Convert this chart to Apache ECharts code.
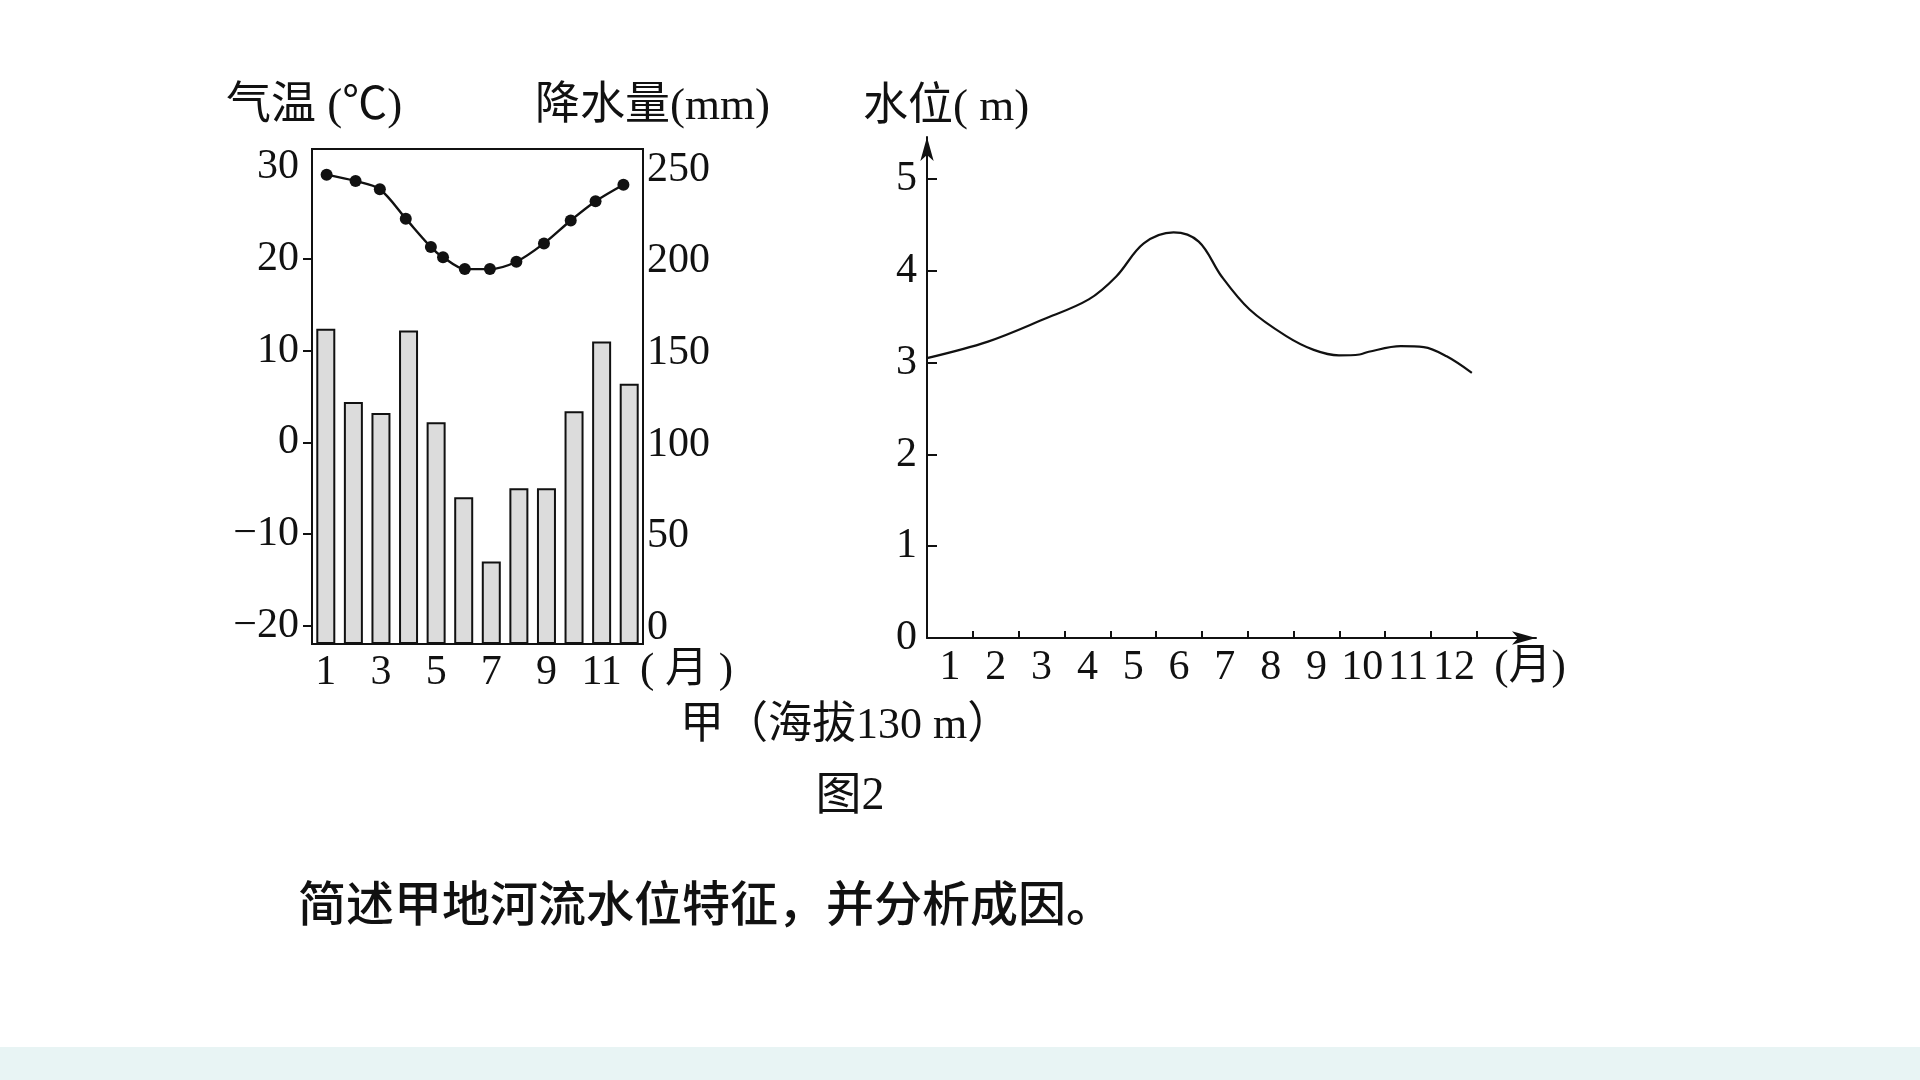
<!DOCTYPE html>
<html>
<head>
<meta charset="utf-8">
<title>图2</title>
<script src="https://cdn.jsdelivr.net/npm/echarts@6/dist/echarts.min.js"></script>
<style>
  html, body { margin: 0; padding: 0; background: #fff; }
  #main { width: 1920px; height: 1080px; }
  #band { position: absolute; left: 0; top: 1047px; width: 1920px; height: 33px; background: #e8f4f4; }
</style>
</head>
<body>
<div id="main"></div>
<div id="band"></div>
<script>
// 月份
const months = ['1', '2', '3', '4', '5', '6', '7', '8', '9', '10', '11', '12'];
// 甲地降水量 (mm)
const precip = [172, 132, 126, 171, 121, 80, 45, 85, 85, 127, 165, 142];
// 甲地气温 (℃)，图上共 13 个点
const tempMonths = [1.03, 2.08, 2.96, 3.9, 4.81, 5.25, 6.04, 6.95, 7.91, 8.91, 9.88, 10.78, 11.79];
const temps = [29.2, 28.5, 27.6, 24.4, 21.3, 20.2, 18.9, 18.9, 19.7, 21.7, 24.2, 26.3, 28.1];
// 河流水位 (m)
const levelMonths = [0, 1.33, 2.53, 3.53, 4.13, 4.73, 5.38, 5.93, 6.43, 7.04, 7.84, 8.44, 8.99, 9.44, 9.64, 10.34, 10.84, 11.34, 11.89];
const levels = [3.05, 3.23, 3.47, 3.69, 3.94, 4.30, 4.42, 4.32, 3.94, 3.58, 3.29, 3.14, 3.08, 3.09, 3.12, 3.18, 3.17, 3.07, 2.89];
// 刻度
const tempTicks = [-20, -10, 0, 10, 20, 30];
const precipTicks = [0, 50, 100, 150, 200, 250];
const levelTicks = [0, 1, 2, 3, 4, 5];

const NUM_FONT = 'Liberation Serif';
const TXT_FONT = "'Liberation Serif', 'Noto Sans CJK SC'";
const INK = '#111';

const chart = echarts.init(document.getElementById('main'));

function txt(text, x, y, size, family, align, weight) {
  return {
    type: 'text',
    x: x,
    y: y,
    style: {
      text: text,
      font: (weight || 'normal') + ' ' + size + 'px ' + family,
      fill: INK,
      textAlign: align || 'left',
      textVerticalAlign: 'middle',
      align: align || 'left',
      verticalAlign: 'middle'
    }
  };
}

chart.setOption({
  animation: false,
  grid: [
    { left: 312, top: 149, width: 331, height: 495, show: true, borderColor: INK, borderWidth: 2 },
    // 右图：坐标轴延长到箭头尖
    { left: 927, top: 137, width: 609, height: 501 }
  ],
  xAxis: [
    {
      type: 'category', gridIndex: 0, data: months, boundaryGap: true,
      axisLine: { show: false }, axisTick: { show: false },
      axisLabel: { interval: 1, margin: 8, fontFamily: NUM_FONT, fontSize: 42, color: INK }
    },
    { type: 'value', gridIndex: 0, min: 0.5, max: 12.5, show: false },
    {
      type: 'value', gridIndex: 1, min: 0, max: 13.29,
      splitLine: { show: false },
      axisLine: { show: true, lineStyle: { color: INK, width: 2 }, symbol: ['none', 'arrow'], symbolSize: [10, 24] },
      axisTick: { show: true, inside: true, length: 7, lineStyle: { color: INK, width: 2 }, customValues: months.map((m, i) => i + 1) },
      axisLabel: {
        margin: 9, fontFamily: NUM_FONT, fontSize: 42, color: INK,
        customValues: months.map((m, i) => i + 0.5),
        formatter: v => months[Math.round(v - 0.5)]
      }
    }
  ],
  yAxis: [
    {
      type: 'value', gridIndex: 0, min: -22, max: 32,
      splitLine: { show: false }, axisLine: { show: false },
      axisTick: { show: true, length: 9, lineStyle: { color: INK, width: 2 }, customValues: [-20, -10, 0, 10, 20] },
      axisLabel: {
        margin: 13, fontFamily: NUM_FONT, fontSize: 42, color: INK,
        customValues: tempTicks,
        formatter: v => (v < 0 ? '\u2212' + (-v) : String(v))
      }
    },
    {
      type: 'value', gridIndex: 0, position: 'right', min: 0, max: 270,
      splitLine: { show: false }, axisLine: { show: false }, axisTick: { show: false },
      axisLabel: {
        margin: 4, fontFamily: NUM_FONT, fontSize: 42, color: INK,
        customValues: precipTicks, verticalAlign: 'bottom', lineHeight: 32
      }
    },
    {
      type: 'value', gridIndex: 1, min: 0, max: 5.46,
      splitLine: { show: false },
      axisLine: { show: true, lineStyle: { color: INK, width: 2 }, symbol: ['none', 'arrow'], symbolSize: [10, 24] },
      axisTick: { show: true, inside: true, length: 10, lineStyle: { color: INK, width: 2 }, customValues: [1, 2, 3, 4, 5] },
      axisLabel: { margin: 10, fontFamily: NUM_FONT, fontSize: 42, color: INK, customValues: levelTicks }
    }
  ],
  series: [
    {
      name: '降水量',
      type: 'bar',
      xAxisIndex: 0,
      yAxisIndex: 1,
      barWidth: 19,
      data: precip,
      itemStyle: { color: '#dcdcdc', borderColor: INK, borderWidth: 2 }
    },
    {
      name: '气温',
      type: 'line',
      xAxisIndex: 1,
      yAxisIndex: 0,
      smooth: 0.3,
      symbol: 'circle',
      symbolSize: 12,
      z: 5,
      itemStyle: { color: INK },
      lineStyle: { color: INK, width: 2.4 },
      data: tempMonths.map((m, i) => [m, temps[i]])
    },
    {
      name: '水位',
      type: 'line',
      xAxisIndex: 2,
      yAxisIndex: 2,
      smooth: 0.35,
      symbol: 'none',
      lineStyle: { color: INK, width: 2.2 },
      data: levelMonths.map((m, i) => [m, levels[i]])
    }
  ],
  graphic: [
    txt('气温 (℃)', 226, 107, 45, TXT_FONT),
    txt('降水量(mm)', 535, 107, 45, TXT_FONT),
    txt('水位( m)', 863, 108, 45, TXT_FONT),
    txt('( 月 )', 640, 671, 43, TXT_FONT),
    txt('(月)', 1530, 668, 43, TXT_FONT, 'center'),
    txt('甲（海拔130 m）', 680, 726, 44, TXT_FONT),
    txt('图2', 850, 797, 46, TXT_FONT, 'center'),
    txt('简述甲地河流水位特征，并分析成因。', 298, 903, 48, "'Noto Sans CJK SC'", 'left', 500)
  ]
});
</script>
</body>
</html>
